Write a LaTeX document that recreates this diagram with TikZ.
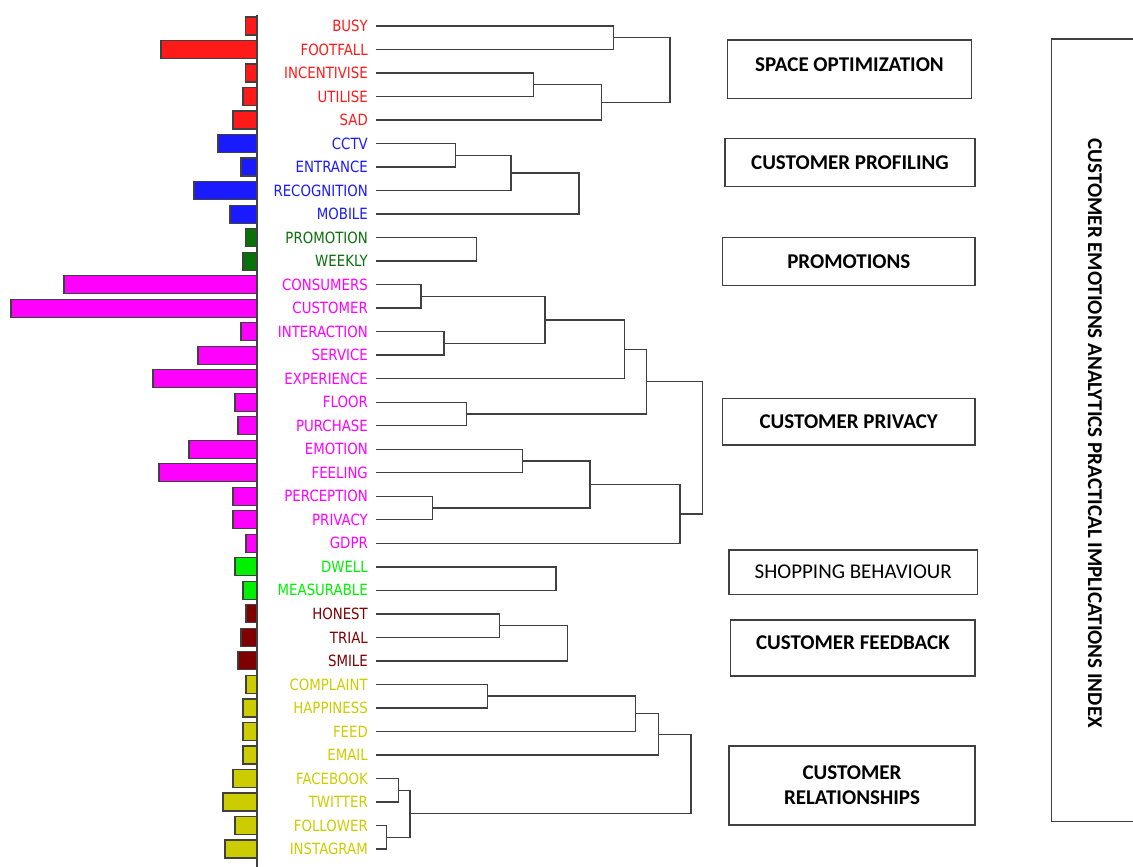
\documentclass[tikz,border=0pt]{standalone}
\usepackage{fontspec}
\setmainfont{Carlito}
\newfontfamily\labfont[FakeStretch=0.86]{DejaVu Sans}
\definecolor{cR}{HTML}{FF1A1A}
\definecolor{cB}{HTML}{1A1AFF}
\definecolor{cG}{HTML}{0A700A}
\definecolor{cM}{HTML}{FF00FF}
\definecolor{cL}{HTML}{00F000}
\definecolor{cD}{HTML}{800000}
\definecolor{cY}{HTML}{CCCC00}
\definecolor{ln}{HTML}{404040}
\newcommand\RY[1]{(26+23.514*(#1))}
\begin{document}
\begin{tikzpicture}[x=1pt,y=-1pt,
  dend/.style={draw=ln,line width=1.4pt},
  bar/.style={draw=ln,line width=1.2pt},
  lab/.style={anchor=east,inner sep=0pt,font=\labfont\fontsize{15.5}{16}\selectfont},
  catbox/.style={draw=ln,line width=1.3pt,font=\fontsize{21}{25}\selectfont\bfseries,align=center,inner sep=0pt},
  idxtext/.style={font=\fontsize{21}{25}\selectfont\bfseries,rotate=-90,inner sep=0pt}
]
\useasboundingbox (0,0) rectangle (1133,867);
\foreach \n/\l/\c [count=\i from 0] in {BUSY/245.7/cR, FOOTFALL/161/cR, INCENTIVISE/245.7/cR, UTILISE/243/cR, SAD/233/cR, CCTV/218/cB, ENTRANCE/241/cB, RECOGNITION/194/cB, MOBILE/230/cB, PROMOTION/245.7/cG, WEEKLY/243/cG, CONSUMERS/64/cM, CUSTOMER/11/cM, INTERACTION/241/cM, SERVICE/198/cM, EXPERIENCE/153/cM, FLOOR/235/cM, PURCHASE/238/cM, EMOTION/189/cM, FEELING/159/cM, PERCEPTION/233/cM, PRIVACY/233/cM, GDPR/246/cM, DWELL/235/cL, MEASURABLE/243/cL, HONEST/246/cD, TRIAL/241/cD, SMILE/238/cD, COMPLAINT/246/cY, HAPPINESS/243/cY, FEED/243/cY, EMAIL/243/cY, FACEBOOK/233/cY, TWITTER/223/cY, FOLLOWER/235/cY, INSTAGRAM/225/cY}{
  \draw[bar,fill=\c] (\l,{\RY{\i}-9}) rectangle (257,{\RY{\i}+9});
  \node[lab,text=\c] (\n) at (368,{\RY{\i}}) {\n};
  \coordinate (p\i) at (376,{\RY{\i}});
}
\draw[ln,line width=1.3pt] (257,15) -- (257,867);
% cluster join points
\coordinate (c01) at (613.3,{\RY{0.5}});
\coordinate (c23) at (533.3,{\RY{2.5}});
\coordinate (c234) at (601.7,{\RY{3.25}});
\coordinate (cA) at (670,{\RY{1.875}});
\coordinate (c56) at (455.7,{\RY{5.5}});
\coordinate (c567) at (511,{\RY{6.25}});
\coordinate (cB) at (579,{\RY{7.125}});
\coordinate (c910) at (476.7,{\RY{9.5}});
\coordinate (c1112) at (421,{\RY{11.5}});
\coordinate (c1314) at (444,{\RY{13.5}});
\coordinate (c1114) at (545,{\RY{12.5}});
\coordinate (c1115) at (624.3,{\RY{13.75}});
\coordinate (c1617) at (466.7,{\RY{16.5}});
\coordinate (c1117) at (646.7,{\RY{15.125}});
\coordinate (c1819) at (522.3,{\RY{18.5}});
\coordinate (c2021) at (432.3,{\RY{20.5}});
\coordinate (c1821) at (590,{\RY{19.5}});
\coordinate (c1822) at (680,{\RY{20.75}});
\coordinate (cD) at (702.3,{\RY{17.9375}});
\coordinate (c2324) at (556,{\RY{23.5}});
\coordinate (c2526) at (499.3,{\RY{25.5}});
\coordinate (cF) at (567.7,{\RY{26.25}});
\coordinate (c2829) at (487.7,{\RY{28.5}});
\coordinate (c2830) at (635.7,{\RY{29.25}});
\coordinate (c2831) at (658.3,{\RY{30.125}});
\coordinate (c3233) at (398.3,{\RY{32.5}});
\coordinate (c3435) at (386.7,{\RY{34.5}});
\coordinate (c3235) at (410,{\RY{33.5}});
\coordinate (cG) at (691,{\RY{31.8125}});
% dendrogram
\draw[dend] (p0) -| (c01) |- (p1);
\draw[dend] (p2) -| (c23) |- (p3);
\draw[dend] (c23) -| (c234) |- (p4);
\draw[dend] (c01) -| (cA) |- (c234);
\draw[dend] (p5) -| (c56) |- (p6);
\draw[dend] (c56) -| (c567) |- (p7);
\draw[dend] (c567) -| (cB) |- (p8);
\draw[dend] (p9) -| (c910) |- (p10);
\draw[dend] (p11) -| (c1112) |- (p12);
\draw[dend] (p13) -| (c1314) |- (p14);
\draw[dend] (c1112) -| (c1114) |- (c1314);
\draw[dend] (c1114) -| (c1115) |- (p15);
\draw[dend] (p16) -| (c1617) |- (p17);
\draw[dend] (c1115) -| (c1117) |- (c1617);
\draw[dend] (p18) -| (c1819) |- (p19);
\draw[dend] (p20) -| (c2021) |- (p21);
\draw[dend] (c1819) -| (c1821) |- (c2021);
\draw[dend] (c1821) -| (c1822) |- (p22);
\draw[dend] (c1117) -| (cD) |- (c1822);
\draw[dend] (p23) -| (c2324) |- (p24);
\draw[dend] (p25) -| (c2526) |- (p26);
\draw[dend] (c2526) -| (cF) |- (p27);
\draw[dend] (p28) -| (c2829) |- (p29);
\draw[dend] (c2829) -| (c2830) |- (p30);
\draw[dend] (c2830) -| (c2831) |- (p31);
\draw[dend] (p32) -| (c3233) |- (p33);
\draw[dend] (p34) -| (c3435) |- (p35);
\draw[dend] (c3233) -| (c3235) |- (c3435);
\draw[dend] (c2831) -| (cG) |- (c3235);
% category boxes
\node[catbox,text depth=10pt,minimum width=244.4pt,minimum height=58.3pt] (bSpace) at (849.5,69.2) {SPACE OPTIMIZATION};
\node[catbox,minimum width=250pt,minimum height=48.4pt] (bProf) at (850,162.5) {CUSTOMER PROFILING};
\node[catbox,minimum width=252.3pt,minimum height=48.4pt] (bProm) at (848.8,261.5) {PROMOTIONS};
\node[catbox,minimum width=252.7pt,minimum height=46.7pt] (bPriv) at (848.7,421.7) {CUSTOMER PRIVACY};
\node[catbox,font=\fontsize{21}{25}\selectfont,minimum width=248.3pt,minimum height=44.3pt] (bShop) at (853.2,572.2) {SHOPPING BEHAVIOUR};
\node[catbox,text depth=10pt,minimum width=244.3pt,minimum height=56pt] (bFeed) at (852.9,648) {CUSTOMER FEEDBACK};
\node[catbox,minimum width=246pt,minimum height=79pt] (bRel) at (852,785.5) {CUSTOMER\\RELATIONSHIPS};
% index frame
\draw[ln,line width=1.3pt] (1133,39) -| (1051.7,821.7) -- (1133,821.7);
\node[idxtext] (idx) at (1095,433.3) {CUSTOMER EMOTIONS ANALYTICS PRACTICAL IMPLICATIONS INDEX};
\end{tikzpicture}
\end{document}
